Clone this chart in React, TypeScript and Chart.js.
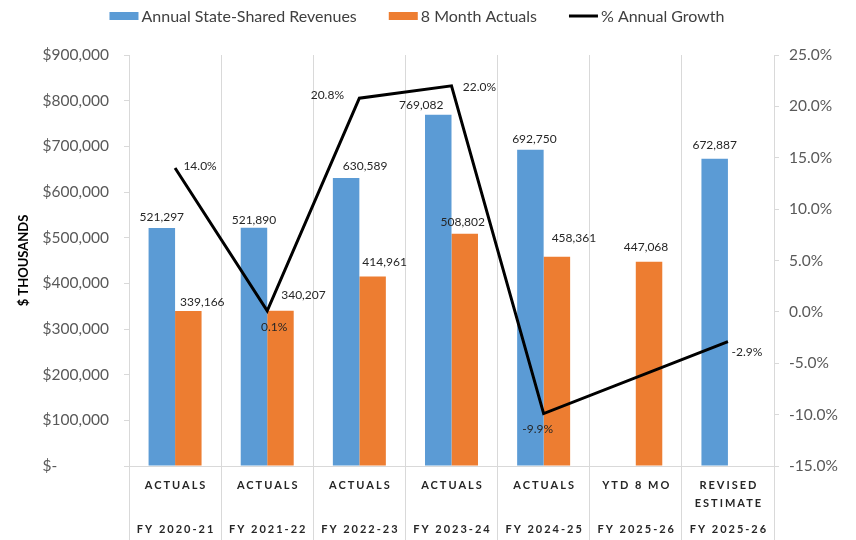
import React, { useEffect, useRef } from "react";
import { Chart, registerables } from "chart.js";

Chart.register(...registerables);

const topLabels: string[][] = [["ACTUALS"], ["ACTUALS"], ["ACTUALS"], ["ACTUALS"], ["ACTUALS"], ["YTD 8 MO"], ["REVISED", "ESTIMATE"]];
const fyLabels = ["FY 2020-21", "FY 2021-22", "FY 2022-23", "FY 2023-24", "FY 2024-25", "FY 2025-26", "FY 2025-26"];
const annualRevenues: (number | null)[] = [521297, 521890, 630589, 769082, 692750, null, 672887];
const eightMonthActuals: (number | null)[] = [339166, 340207, 414961, 508802, 458361, 447068, null];
const annualGrowth: (number | null)[] = [14.0, 0.1, 20.8, 22.0, -9.9, null, -2.9];

const seriesNames = ["Annual State-Shared Revenues", "8 Month Actuals", "% Annual Growth"];

// label placement offsets (pixels) relative to bar top / point
const blueLabelOffsets = [[0, -11], [0, -8], [19, -12], [-17, -10], [4, -11], [0, 0], [0, -14]];
const orangeLabelOffsets = [[14, -9], [23, -16], [12, -14], [-2, -12], [17, -19], [-3, -15], [0, 0]];
const lineLabelOffsets = [[25, -2], [7, 16], [-32, -3], [28, 1], [-6, 16], [0, 0], [19, 10]];

const BLUE = "#5B9BD5";
const ORANGE = "#ED7D31";
const GRID = "#D9D9D9";
const FONT = "Lato, 'Open Sans', sans-serif";

const fmtNum = (v: number) => v.toLocaleString("en-US");

const overlayPlugin = {
  id: "overlay",
  afterDraw(chart: any) {
    const ctx = chart.ctx as CanvasRenderingContext2D;
    const xScale = chart.scales.x;
    const yScale = chart.scales.y;
    ctx.save();

    // Legend
    ctx.font = `16px ${FONT}`;
    ctx.textBaseline = "middle";
    const boxW = 29, gapT = 3, gapItem = 32;
    const widths = seriesNames.map((n) => ctx.measureText(n).width);
    const total = widths.reduce((a, w) => a + boxW + gapT + w, 0) + gapItem * 2;
    let lx = 417 - total / 2;
    const ly = 16;
    seriesNames.forEach((n, i) => {
      if (i === 2) {
        ctx.strokeStyle = "#000";
        ctx.lineWidth = 3;
        ctx.beginPath();
        ctx.moveTo(lx, ly);
        ctx.lineTo(lx + boxW, ly);
        ctx.stroke();
      } else {
        ctx.fillStyle = i === 0 ? BLUE : ORANGE;
        ctx.fillRect(lx, ly - 4, boxW, 8);
      }
      ctx.fillStyle = "#404040";
      ctx.textAlign = "left";
      ctx.fillText(n, lx + boxW + gapT, ly + 1);
      lx += boxW + gapT + widths[i] + gapItem;
    });

    // "$-" zero label on left axis
    ctx.font = `15.5px ${FONT}`;
    ctx.fillStyle = "#595959";
    ctx.textAlign = "left";
    const refW = ctx.measureText("$900,000").width;
    const rightEdge = yScale.right - 5 - 15;
    ctx.fillText("$-", rightEdge - refW, yScale.getPixelForValue(0));

    // Two-level category labels
    ctx.font = `bold 11px ${FONT}`;
    (ctx as any).letterSpacing = "2px";
    ctx.fillStyle = "#262626";
    ctx.textAlign = "center";
    for (let i = 0; i < fyLabels.length; i++) {
      const cx = xScale.getPixelForValue(i) + 1;
      topLabels[i].forEach((t, k) => ctx.fillText(t, cx, 485 + k * 18));
      ctx.fillText(fyLabels[i], cx, 529);
    }
    (ctx as any).letterSpacing = "0px";

    // Data labels
    ctx.font = `12px ${FONT}`;
    ctx.fillStyle = "#262626";
    ctx.textAlign = "center";
    const drawSet = (dsIndex: number, values: (number | null)[], offs: number[][], fmt: (v: number) => string) => {
      const meta = chart.getDatasetMeta(dsIndex);
      values.forEach((v, i) => {
        if (v === null) return;
        const el = meta.data[i];
        ctx.fillText(fmt(v), el.x + offs[i][0], el.y + offs[i][1]);
      });
    };
    drawSet(0, annualRevenues, blueLabelOffsets, fmtNum);
    drawSet(1, eightMonthActuals, orangeLabelOffsets, fmtNum);
    drawSet(2, annualGrowth, lineLabelOffsets, (v) => v.toFixed(1) + "%");

    ctx.restore();
  },
};

export default function App() {
  const ref = useRef<HTMLCanvasElement | null>(null);
  useEffect(() => {
    document.body.style.margin = "0";
    const canvas = ref.current;
    if (!canvas) return;
    const chart = new Chart(canvas, {
      type: "bar",
      data: {
        labels: fyLabels,
        datasets: [
          {
            type: "bar",
            label: seriesNames[0],
            data: annualRevenues,
            backgroundColor: BLUE,
            yAxisID: "y",
            order: 1,
            categoryPercentage: 0.575,
            barPercentage: 1,
          },
          {
            type: "bar",
            label: seriesNames[1],
            data: eightMonthActuals,
            backgroundColor: ORANGE,
            yAxisID: "y",
            order: 2,
            categoryPercentage: 0.575,
            barPercentage: 1,
          },
          {
            type: "line",
            label: seriesNames[2],
            data: annualGrowth,
            borderColor: "#000",
            borderWidth: 3,
            pointRadius: 0,
            tension: 0,
            spanGaps: true,
            borderJoinStyle: "miter",
            yAxisID: "y1",
            order: 0,
          } as any,
        ],
      },
      options: {
        responsive: false,
        animation: false,
        layout: { padding: { top: 55, left: 0, right: 0, bottom: 0 } },
        plugins: { legend: { display: false }, tooltip: { enabled: false } },
        scales: {
          x: {
            offset: true,
            grid: {
              display: true,
              offset: true,
              color: GRID,
              lineWidth: 1,
              drawOnChartArea: true,
              drawTicks: true,
              tickLength: 74,
            },
            border: { display: true, color: GRID },
            ticks: { display: false },
            afterFit: (s: any) => { s.height = 74; },
          },
          y: {
            position: "left",
            min: 0,
            max: 900000,
            grid: { display: true, drawOnChartArea: false, drawTicks: true, tickLength: 5, color: GRID },
            border: { display: true, color: GRID },
            ticks: {
              stepSize: 100000,
              padding: 15,
              color: "#595959",
              font: { family: FONT, size: 15.5 },
              callback: (v: any) => (v === 0 ? "" : "$" + fmtNum(Number(v))),
            },
            title: {
              display: true,
              text: "$ THOUSANDS",
              color: "#000",
              font: { family: FONT, size: 13, weight: "bold" },
              padding: { top: 16, bottom: 0 },
            },
            afterFit: (s: any) => { s.width = 129; },
          },
          y1: {
            position: "right",
            min: -15,
            max: 25,
            grid: { display: true, drawOnChartArea: false, drawTicks: true, tickLength: 5, color: GRID },
            border: { display: true, color: GRID },
            ticks: {
              stepSize: 5,
              padding: 10,
              color: "#595959",
              font: { family: FONT, size: 15.5 },
              callback: (v: any) => Number(v).toFixed(1) + "%",
            },
            afterFit: (s: any) => { s.width = 82; },
          },
        },
      },
      plugins: [overlayPlugin],
    });
    return () => chart.destroy();
  }, []);
  return <canvas ref={ref} width={856} height={540} style={{ display: "block", width: 856, height: 540 }} />;
}
